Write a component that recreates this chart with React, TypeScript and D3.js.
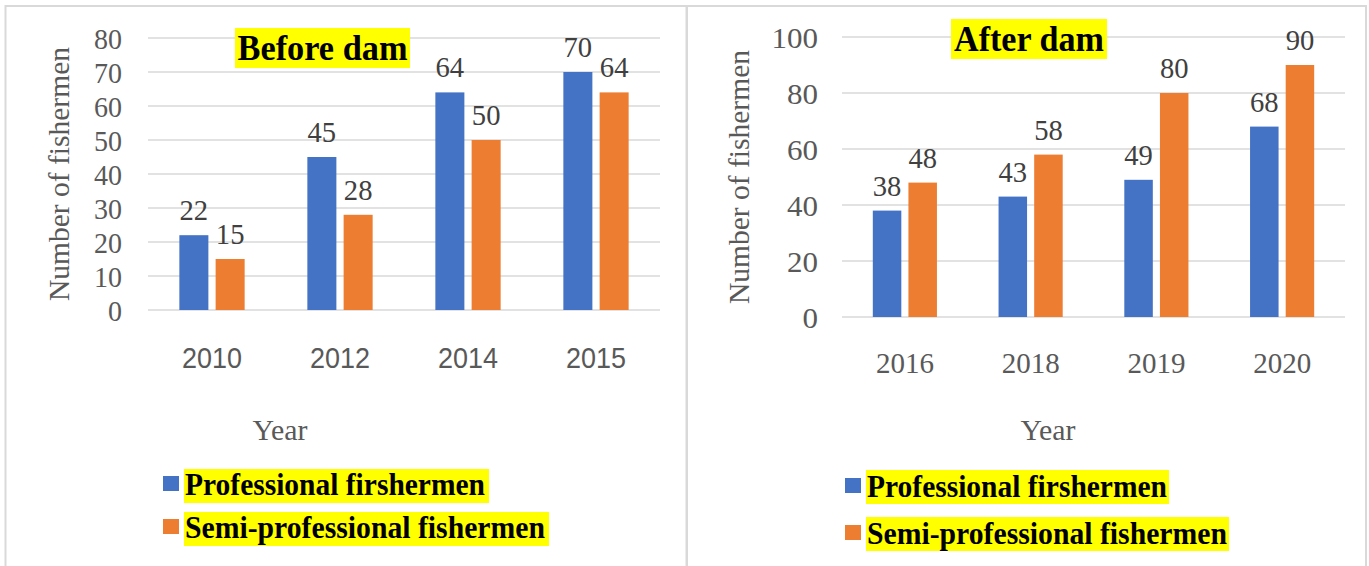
import React from "react";
import * as d3 from "d3";

const seriesNames = ["Professional firshermen", "Semi-professional fishermen"];
const colors = ["#4472C4", "#ED7D31"];

const beforeYears = ["2010", "2012", "2014", "2015"];
const beforeProfessional = [22, 45, 64, 70];
const beforeSemi = [15, 28, 50, 64];
const beforeTicks = [0, 10, 20, 30, 40, 50, 60, 70, 80];

const afterYears = ["2016", "2018", "2019", "2020"];
const afterProfessional = [38, 43, 49, 68];
const afterSemi = [48, 58, 80, 90];
const afterTicks = [0, 20, 40, 60, 80, 100];

const SERIF = "'Liberation Serif', 'Times New Roman', serif";
const NARROW = "'Liberation Sans Narrow', 'Arial Narrow', 'Liberation Sans', sans-serif";

type PanelProps = {
  title: string;
  titleBox: [number, number, number, number];
  titleLen: number;
  years: string[];
  s1: number[];
  s2: number[];
  ticks: number[];
  plot: { x0: number; x1: number; y0: number; y1: number };
  tickRight: number;
  tickDigit: number;
  yLabelX: number;
  xLabelY: number;
  xLabelLen: number;
  yearX: number;
  xFont: string;
  legendX: number;
  legendY: [number, number];
  legendBg: [number, number];
  legendBgTop: [number, number];
};

function Panel(p: PanelProps) {
  const maxV = p.ticks[p.ticks.length - 1];
  const y = d3.scaleLinear().domain([0, maxV]).range([p.plot.y0, p.plot.y1]);
  const x0 = d3
    .scaleBand<string>()
    .domain(p.years)
    .range([p.plot.x0, p.plot.x1])
    .paddingInner(0.49)
    .paddingOuter(0.245);
  const x1 = d3
    .scaleBand<number>()
    .domain([0, 1])
    .range([0, x0.bandwidth()])
    .paddingInner(0.2);
  const series = [p.s1, p.s2];
  const legendLens = [300, 360];
  return (
    <g>
      {p.ticks.map((t) => (
        <g key={t}>
          <line x1={p.plot.x0} x2={p.plot.x1} y1={y(t)} y2={y(t)} stroke="#D9D9D9" strokeWidth={1.5} />
          <text
            x={p.tickRight}
            y={y(t)}
            dy="0.36em"
            textAnchor="end"
            fontFamily={SERIF}
            fontSize={30}
            fill="#595959"
            textLength={String(t).length * p.tickDigit}
            lengthAdjust="spacingAndGlyphs"
          >
            {t}
          </text>
        </g>
      ))}
      {p.years.map((yr, i) => (
        <g key={yr}>
          {series.map((s, k) => {
            const bx = (x0(yr) as number) + (x1(k) as number);
            const bw = x1.bandwidth();
            return (
              <g key={k}>
                <rect x={bx} y={y(s[i])} width={bw} height={y(0) - y(s[i])} fill={colors[k]} />
                <text
                  x={bx + bw / 2}
                  y={y(s[i]) - 15}
                  textAnchor="middle"
                  fontFamily={SERIF}
                  fontSize={30}
                  fill="#404040"
                  textLength={String(s[i]).length * 14.3}
                  lengthAdjust="spacingAndGlyphs"
                >
                  {s[i]}
                </text>
              </g>
            );
          })}
          <text
            x={(x0(yr) as number) + x0.bandwidth() / 2}
            y={p.xLabelY}
            textAnchor="middle"
            fontFamily={p.xFont}
            fontSize={30}
            fill="#595959"
            textLength={p.xLabelLen}
            lengthAdjust="spacingAndGlyphs"
          >
            {yr}
          </text>
        </g>
      ))}
      <text
        transform={`translate(${p.yLabelX},${(p.plot.y0 + p.plot.y1) / 2}) rotate(-90)`}
        textAnchor="middle"
        dy="0.35em"
        fontFamily={SERIF}
        fontSize={30}
        fill="#595959"
        textLength={254}
        lengthAdjust="spacingAndGlyphs"
      >
        Number of fishermen
      </text>
      <text
        x={p.yearX}
        y={440}
        textAnchor="middle"
        fontFamily={SERIF}
        fontSize={30}
        fill="#595959"
        textLength={55}
        lengthAdjust="spacingAndGlyphs"
      >
        Year
      </text>
      <rect x={p.titleBox[0]} y={p.titleBox[1]} width={p.titleBox[2]} height={p.titleBox[3]} fill="#FFFF00" />
      <text
        x={p.titleBox[0] + p.titleBox[2] / 2}
        y={p.titleBox[1] + 32}
        textAnchor="middle"
        fontFamily={SERIF}
        fontWeight="bold"
        fontSize={35}
        fill="#000"
        textLength={p.titleLen}
        lengthAdjust="spacingAndGlyphs"
      >
        {p.title}
      </text>
      {seriesNames.map((n, k) => (
        <g key={n}>
          <rect x={p.legendX} y={p.legendY[k] - 19} width={16} height={15} fill={colors[k]} />
          <rect
            x={p.legendX + 21}
            y={p.legendBgTop[k]}
            width={p.legendBg[k]}
            height={34}
            fill="#FFFF00"
          />
          <text
            x={p.legendX + 22}
            y={p.legendY[k]}
            fontFamily={SERIF}
            fontWeight="bold"
            fontSize={31}
            fill="#000"
            textLength={legendLens[k]}
            lengthAdjust="spacingAndGlyphs"
          >
            {n}
          </text>
        </g>
      ))}
    </g>
  );
}

export default function App() {
  return (
    <svg width={1369} height={566} style={{ position: "absolute", left: 0, top: 0, background: "#fff" }}>
      <rect x={5.5} y={6} width={681} height={570} fill="none" stroke="#D9D9D9" strokeWidth={2} />
      <rect x={687} y={6} width={679} height={570} fill="none" stroke="#D9D9D9" strokeWidth={2} />
      <Panel
        title="Before dam"
        titleBox={[235, 28, 175, 40]}
        titleLen={170}
        years={beforeYears}
        s1={beforeProfessional}
        s2={beforeSemi}
        ticks={beforeTicks}
        plot={{ x0: 148, x1: 660, y0: 310, y1: 38 }}
        tickRight={122}
        tickDigit={14}
        yLabelX={58}
        xLabelY={368}
        xLabelLen={60}
        yearX={280}
        xFont={NARROW}
        legendX={163}
        legendY={[495, 538]}
        legendBg={[305, 365]}
        legendBgTop={[469, 512]}
      />
      <Panel
        title="After dam"
        titleBox={[951, 19, 156, 40]}
        titleLen={150}
        years={afterYears}
        s1={afterProfessional}
        s2={afterSemi}
        ticks={afterTicks}
        plot={{ x0: 842, x1: 1345, y0: 317, y1: 37 }}
        tickRight={818}
        tickDigit={15.5}
        yLabelX={738}
        xLabelY={373}
        xLabelLen={58}
        yearX={1048}
        xFont={SERIF}
        legendX={845}
        legendY={[497, 544]}
        legendBg={[303, 363]}
        legendBgTop={[470, 517]}
      />
    </svg>
  );
}
